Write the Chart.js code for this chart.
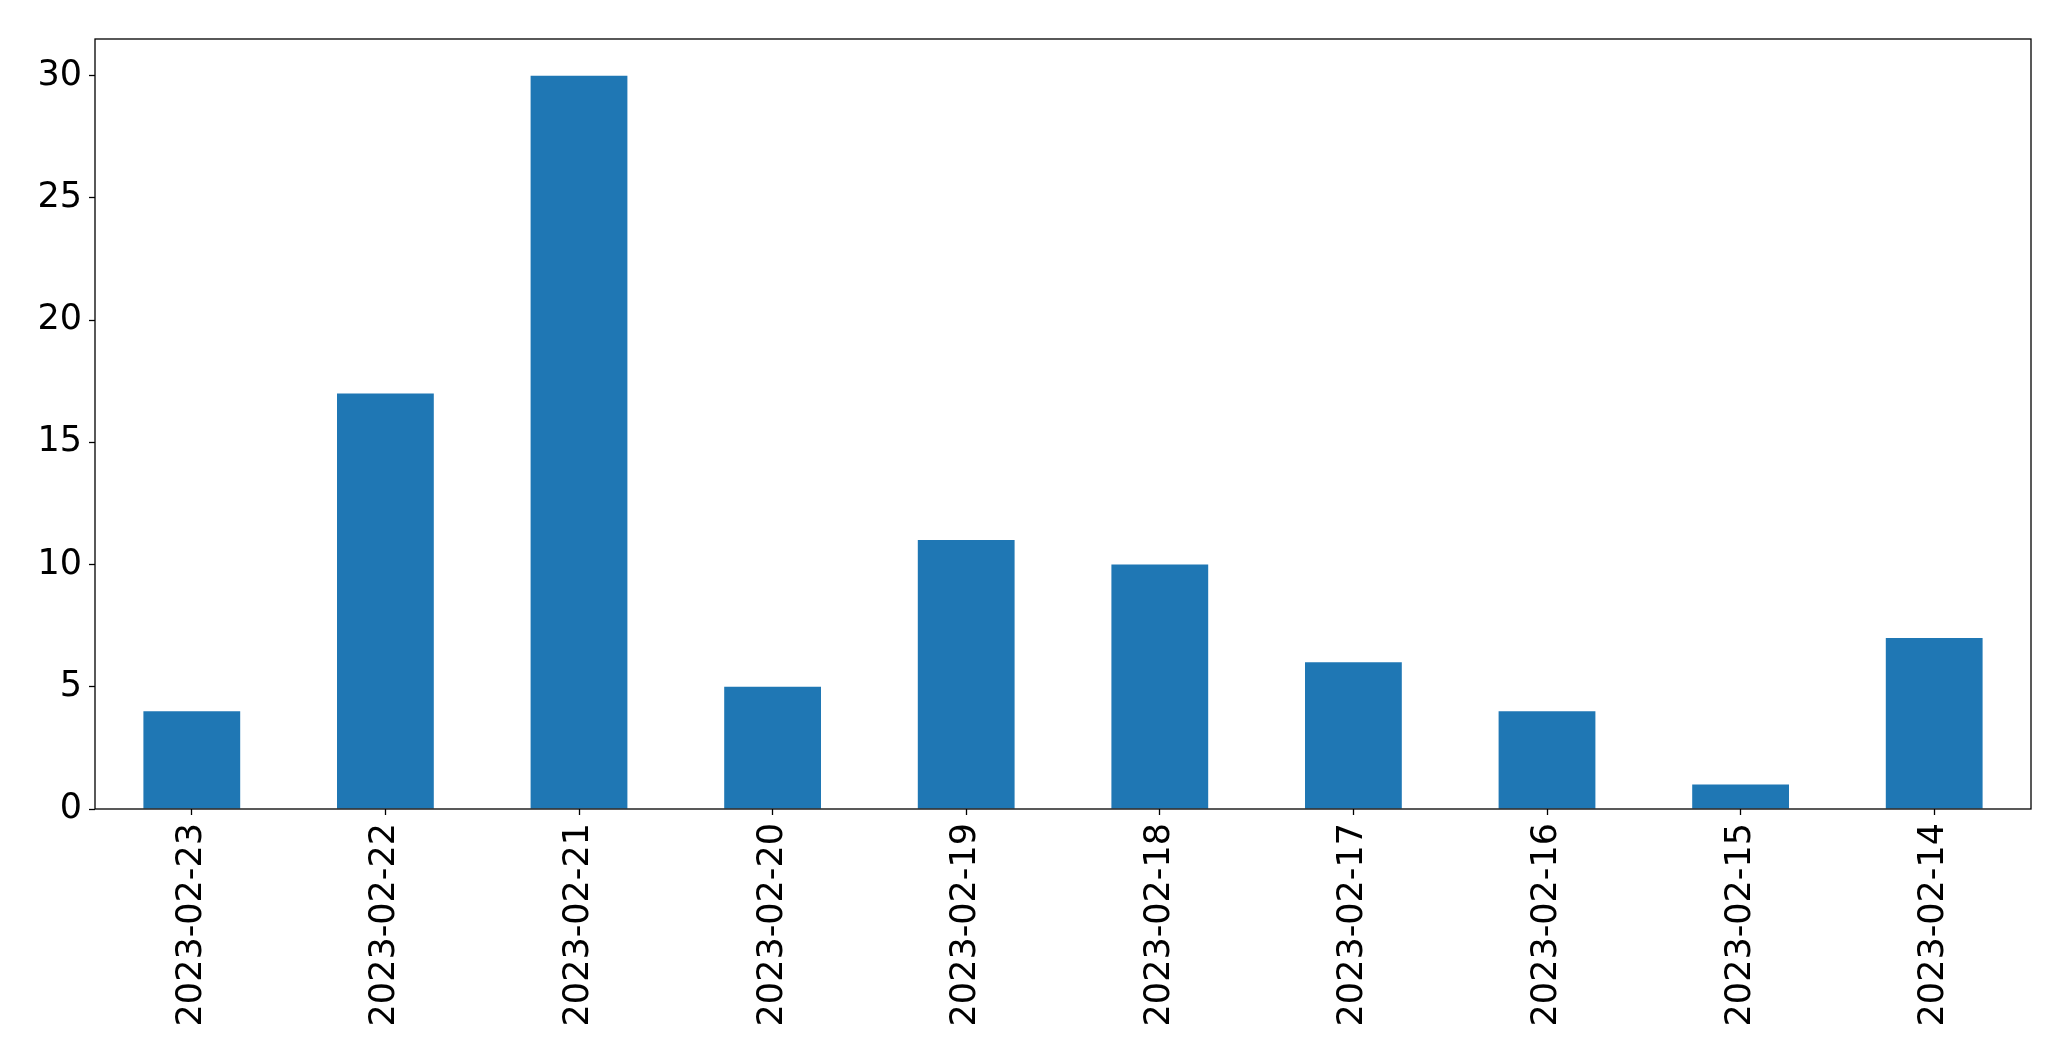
<!DOCTYPE html>
<html><head><meta charset="utf-8">
<script src="https://cdn.jsdelivr.net/npm/chart.js@4/dist/chart.umd.min.js"></script>
<style>html,body{margin:0;padding:0;background:#fff}#wrap{width:2071px;height:1061px}</style>
</head><body><div id="wrap"><canvas id="c" width="2071" height="1061"></canvas></div>
<script>
const categories = ["2023-02-23","2023-02-22","2023-02-21","2023-02-20","2023-02-19","2023-02-18","2023-02-17","2023-02-16","2023-02-15","2023-02-14"];
const values = [4,17,30,5,11,10,6,4,1,7];
const yTicks = [0,5,10,15,20,25,30];
const yMax = 31.5;

const frame = {
  id:'frame',
  afterDraw(chart){
    const a = chart.chartArea, ctx = chart.ctx;
    ctx.save(); ctx.strokeStyle='#000'; ctx.lineWidth=1.3;
    ctx.strokeRect(a.left, a.top, a.right-a.left, a.bottom-a.top);
    ctx.restore();
  }
};
const font = {family:'"DejaVu Sans", sans-serif', size:35};
new Chart(document.getElementById('c'), {
  type:'bar',
  data:{labels:categories, datasets:[{data:values, backgroundColor:'#1f77b4', barPercentage:0.5, categoryPercentage:1.0}]},
  options:{
    responsive:false, animation:false,
    layout:{padding:{left:0, top:39, right:40, bottom:0}},
    plugins:{legend:{display:false}, tooltip:{enabled:false}},
    scales:{
      x:{
        grid:{display:true, offset:false, drawOnChartArea:false, tickLength:6, color:'#000', tickWidth:1.3},
        border:{display:false},
        ticks:{color:'#000', font, minRotation:90, maxRotation:90, autoSkip:false, padding:8},
        afterFit(s){ s.height = 1061-809; }
      },
      y:{
        min:0, max:yMax,
        grid:{display:true, drawOnChartArea:false, tickLength:6, color:'#000', tickWidth:1.3},
        border:{display:false},
        ticks:{color:'#000', font, padding:7},
        afterBuildTicks(s){ s.ticks = yTicks.map(v=>({value:v})); },
        afterFit(s){ s.width = 95; }
      }
    }
  },
  plugins:[frame]
});
</script></body></html>
